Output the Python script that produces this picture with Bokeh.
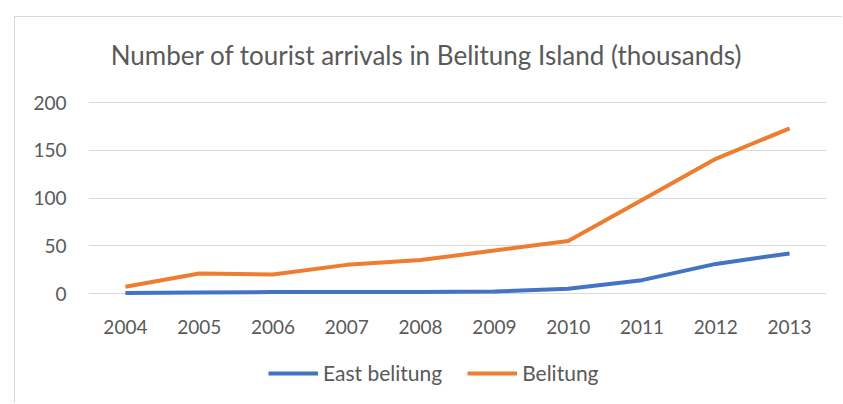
from bokeh.plotting import figure
from bokeh.models import Range1d, FactorRange, Legend, LegendItem, FixedTicker, Label
from bokeh.embed import file_html
from bokeh.resources import INLINE

years = ["2004", "2005", "2006", "2007", "2008", "2009", "2010", "2011", "2012", "2013"]
east_belitung = [0.5, 1, 1.5, 1.5, 1.5, 2, 5, 14, 31, 42]
belitung = [7, 21, 20, 30, 35, 45, 55, 98, 141, 173]
y_ticks = [0, 50, 100, 150, 200]
title_text = "Number of tourist arrivals in Belitung Island (thousands)"

FONT = "Lato"
GREY = "#595959"

# frame spans the full figure height; 0..200 sits where the reference has it
p = figure(
    width=828, height=387, title=None,
    x_range=FactorRange(*years, range_padding=0),
    y_range=Range1d(-116.2, 289),
    output_backend="svg", toolbar_location=None,
    min_border_left=73, min_border_right=17, min_border_top=0, min_border_bottom=0,
    margin=(16, 0, 0, 14),
    styles={"border-left": "1px solid #d9d9d9", "border-top": "1px solid #d9d9d9"},
)
p.outline_line_color = None
p.background_fill_color = "white"
p.border_fill_color = "white"

l_east = p.line(years, east_belitung, line_color="#4472C4", line_width=4)
l_bel = p.line(years, belitung, line_color="#ED7D31", line_width=4)

p.xgrid.grid_line_color = None
p.ygrid.grid_line_color = "#d9d9d9"
p.ygrid.grid_line_width = 1
p.yaxis.ticker = FixedTicker(ticks=y_ticks)
p.xaxis.fixed_location = 0

for ax in (p.xaxis, p.yaxis):
    ax.axis_line_color = None
    ax.major_tick_line_color = None
    ax.minor_tick_line_color = None
    ax.major_label_text_font = FONT
    ax.major_label_text_font_size = "19px"
    ax.major_label_text_color = GREY
p.yaxis.major_label_standoff = 16
p.xaxis.major_label_standoff = 20

title = Label(x=338, y=350, x_units="screen", y_units="screen", text=title_text,
              text_align="center", text_baseline="middle", text_font=FONT,
              text_font_size="26px", text_color=GREY)
p.add_layout(title)

legend = Legend(items=[LegendItem(label="East belitung", renderers=[l_east]),
                       LegendItem(label="Belitung", renderers=[l_bel])],
                orientation="horizontal", location=(180, 19),
                glyph_width=50, glyph_height=20, label_standoff=5, spacing=25,
                padding=0, margin=0, border_line_color=None, background_fill_alpha=0,
                label_text_font=FONT, label_text_font_size="21px", label_text_color=GREY)
p.add_layout(legend)

open("out.html", "w").write(file_html(p, INLINE))
